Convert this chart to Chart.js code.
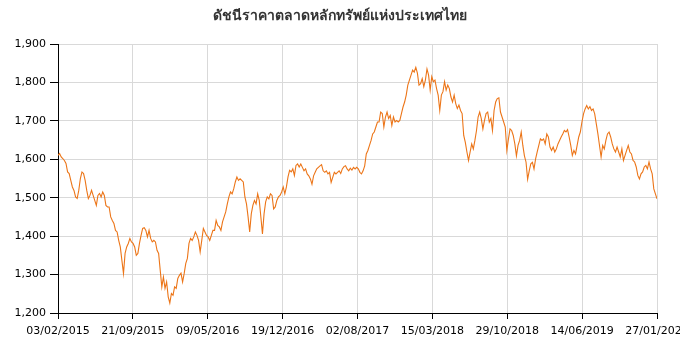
<!DOCTYPE html>
<html><head><meta charset="utf-8">
<script src="https://cdn.jsdelivr.net/npm/chart.js@4.4.0/dist/chart.umd.min.js"></script>
<style>html,body{margin:0;padding:0;background:#fff;} #wrap{width:680px;height:360px;position:relative;}</style>
</head><body><div id="wrap"><canvas id="c"></canvas></div>
<script>
const chartTitle = 'ดัชนีราคาตลาดหลักทรัพย์แห่งประเทศไทย';
const tickLabels = ['03/02/2015','21/09/2015','09/05/2016','19/12/2016','02/08/2017','15/03/2018','29/10/2018','14/06/2019','27/01/2020'];
const yTicks = [1200, 1300, 1400, 1500, 1600, 1700, 1800, 1900];

const seg2015 = [1610,1615,1606,1602,1597,1589,1567,1563,1545,1528,1519,1502,1498,1519,1550,1567,1563,1545,1519,1498,1506,1519,1506,1493,1480,1506,1511,1502,1515,1506,1480,1476,1476,1450,1441,1433,1415,1411,1389,1372,1337,1303,1355,1372,1381,1394,1385,1381,1372,1350,1355,1381,1402,1420,1422,1415,1398,1415,1394,1385,1389,1385,1363];
const seg2016a = [1355,1311,1268,1294,1264,1281,1242,1226,1251,1246,1268,1264,1290,1298,1304,1281,1303,1329,1342,1381,1394,1389,1398,1411,1402,1389,1359,1389,1420,1411,1402,1398,1389,1402,1415];
const seg2016b = [1415,1441,1428,1424,1415,1437,1450,1463,1484,1502,1515,1510,1523,1541,1554,1545,1549,1545,1541,1502,1484,1450,1411,1458,1480,1493,1484,1510,1493,1450,1406,1458,1489,1502,1497,1510,1506,1471,1476,1493,1502,1506,1515,1528,1510,1528,1554,1571,1567,1575,1558,1584,1588,1580,1588];
const seg2017 = [1579,1570,1575,1562,1557,1549,1535,1557,1566,1575,1579,1583,1586,1570,1566,1570,1562,1566,1540,1553,1566,1562,1566,1570,1563,1575,1581,1583,1575,1570,1577,1572,1579,1575,1579,1575,1566,1562,1570,1583,1614,1623,1636,1649,1666,1671,1684,1697,1697,1723,1719,1684,1710,1723,1706,1714,1688,1710,1697,1701,1697,1701,1719,1736,1749,1767,1793,1806,1819,1832,1827,1839,1824,1793];
const seg2018 = [1797,1810,1789,1806,1835,1819,1780,1815,1802,1806,1784,1767,1727,1767,1776,1802,1780,1793,1784,1762,1749,1767,1745,1732,1741,1727,1719,1662,1644,1619,1597,1619,1640,1627,1649,1675,1710,1723,1706,1679,1701,1719,1723,1697,1706,1675,1727,1749,1758,1760,1723,1710,1697,1684,1623,1653,1679,1675,1662,1640,1609,1636,1649,1671,1636,1609,1593,1548,1570,1588,1592,1575,1601,1619,1636,1653];
const seg2019 = [1649,1653,1640,1666,1658,1632,1623,1632,1619,1627,1640,1649,1658,1666,1675,1671,1677,1658,1636,1610,1623,1614,1636,1658,1671,1697,1718,1731,1740,1731,1737,1727,1731,1718,1692,1666,1636,1606,1636,1627,1649,1666,1671,1658,1640,1627,1619,1632,1619,1606,1627,1597,1610,1623,1636,1619,1614,1597,1593,1580,1558,1549,1562,1567,1580,1584,1575,1593,1575,1562,1523,1510,1497];

const setIndex = [].concat(seg2015, seg2016a, seg2016b, seg2017, seg2018, seg2019);
const N = setIndex.length;
const points = setIndex.map((v, i) => ({x: i, y: v}));

const FONT = '"DejaVu Sans", Verdana, sans-serif';

new Chart(document.getElementById('c'), {
  type: 'line',
  data: { datasets: [{ data: points, borderColor: '#ec7518', borderWidth: 1.1, pointRadius: 0, tension: 0, fill: false }] },
  options: {
    responsive: true, maintainAspectRatio: false, animation: false,
    locale: 'en-US',
    layout: { padding: 0 },
    plugins: {
      legend: { display: false },
      tooltip: { enabled: false },
      title: { display: true, text: chartTitle, color: '#333', font: { family: 'Tahoma, "DejaVu Sans", "Noto Sans", sans-serif', size: 14, weight: 'bold' }, padding: { top: 8, bottom: 19.2 } }
    },
    scales: {
      x: {
        type: 'linear', min: 0, max: N - 1,
        afterBuildTicks: s => { s.ticks = tickLabels.map((_, i) => ({ value: i * (N - 1) / (tickLabels.length - 1) })); },
        afterFit: s => { s.paddingLeft = 0; s.paddingRight = 23; s.height = 47; },
        grid: { color: '#d9d9d9', tickColor: '#000', tickLength: 6 },
        border: { color: '#000', width: 1 },
        ticks: { autoSkip: false, maxRotation: 0, padding: 6, color: '#000', font: { family: FONT, size: 11 }, callback: (v, i) => tickLabels[i] }
      },
      y: {
        min: yTicks[0], max: yTicks[yTicks.length - 1],
        afterBuildTicks: s => { s.ticks = yTicks.map(v => ({ value: v })); },
        afterFit: s => { s.width = 58; },
        grid: { color: '#d9d9d9', tickColor: '#000', tickLength: 8 },
        border: { color: '#000', width: 1 },
        ticks: { padding: 4, color: '#000', font: { family: FONT, size: 11 } }
      }
    }
  }
});
</script></body></html>
